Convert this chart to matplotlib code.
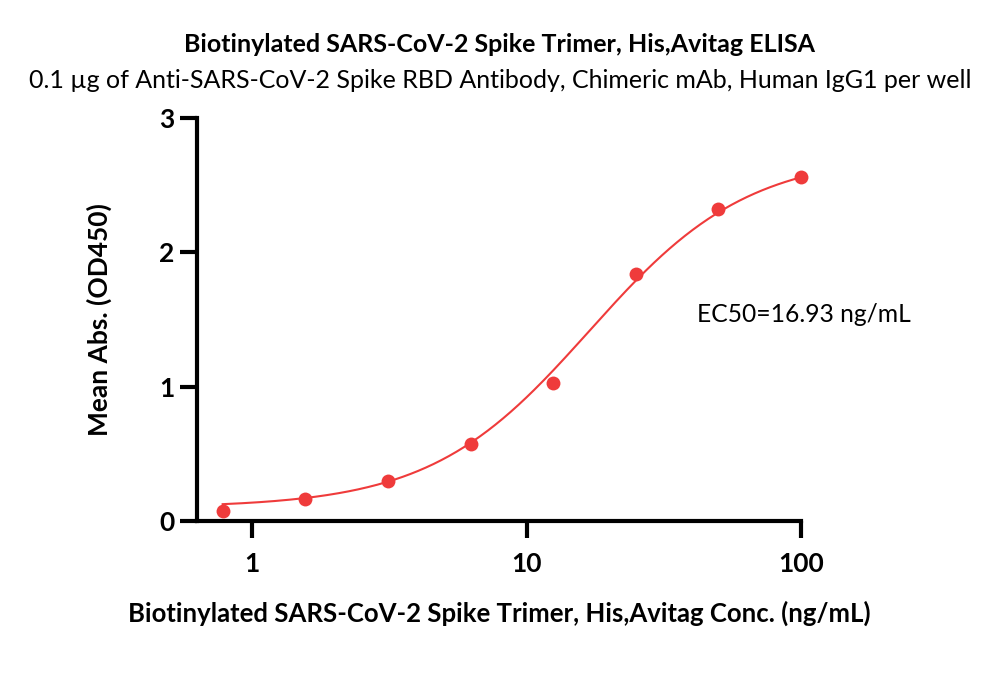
import numpy as np
import matplotlib.pyplot as plt

# measured points (ng/mL vs mean OD450)
conc = [0.78125, 1.5625, 3.125, 6.25, 12.5, 25, 50, 100]
od450 = [0.075, 0.165, 0.30, 0.57, 1.03, 1.84, 2.32, 2.56]

# 4PL fit parameters
fit_bottom = 0.10
fit_top = 2.73
fit_ec50 = 16.93
fit_hill = 1.5

title = "Biotinylated SARS-CoV-2 Spike Trimer, His,Avitag ELISA"
subtitle = "0.1 µg of Anti-SARS-CoV-2 Spike RBD Antibody, Chimeric mAb, Human IgG1 per well"
xlabel = "Biotinylated SARS-CoV-2 Spike Trimer, His,Avitag Conc. (ng/mL)"
ylabel = "Mean Abs. (OD450)"
ec50_text = "EC50=16.93 ng/mL"

red = '#EF3B3B'
plt.rcParams['font.family'] = ['Lato', 'DejaVu Sans']

fig = plt.figure(figsize=(10, 6.92), dpi=100)
ax = fig.add_axes([0.197, 0.247, 0.604, 0.5825])

xs = np.logspace(np.log10(conc[0]), np.log10(conc[-1]), 300)
ys = fit_bottom + (fit_top - fit_bottom) / (1 + (fit_ec50 / xs) ** fit_hill)
ax.plot(xs, ys, color=red, linewidth=1.5, zorder=2)
ax.plot(conc, od450, 'o', color=red, markersize=10, markeredgewidth=0, zorder=3,
        clip_on=False)

ax.set_xscale('log')
ax.set_xlim(0.63, 100)
ax.set_ylim(0, 3)
ax.set_xticks([1, 10, 100])
ax.set_xticklabels(['1', '10', '100'])
ax.set_yticks([0, 1, 2, 3])
ax.minorticks_off()

for side in ['top', 'right']:
    ax.spines[side].set_visible(False)
for side in ['left', 'bottom']:
    ax.spines[side].set_linewidth(3)
ax.tick_params(width=3, length=12, labelsize=19, pad=4)
ax.tick_params(axis='x', pad=10)
for lbl in ax.get_xticklabels() + ax.get_yticklabels():
    lbl.set_fontweight('bold')

ax.set_xlabel(xlabel, fontsize=18.5, fontweight='bold', labelpad=18)
ax.set_ylabel(ylabel, fontsize=19, fontweight='bold', labelpad=34)

ax.text(697 / 1000, 1 - 315 / 692, ec50_text, transform=fig.transFigure,
        fontsize=17.7, va='center', ha='left')

fig.text(0.5, 1 - 45 / 692, title, ha='center', va='center', fontsize=18, fontweight='bold')
fig.text(0.5, 1 - 80 / 692, subtitle, ha='center', va='center', fontsize=18)

fig.savefig('out.png', dpi=100)
